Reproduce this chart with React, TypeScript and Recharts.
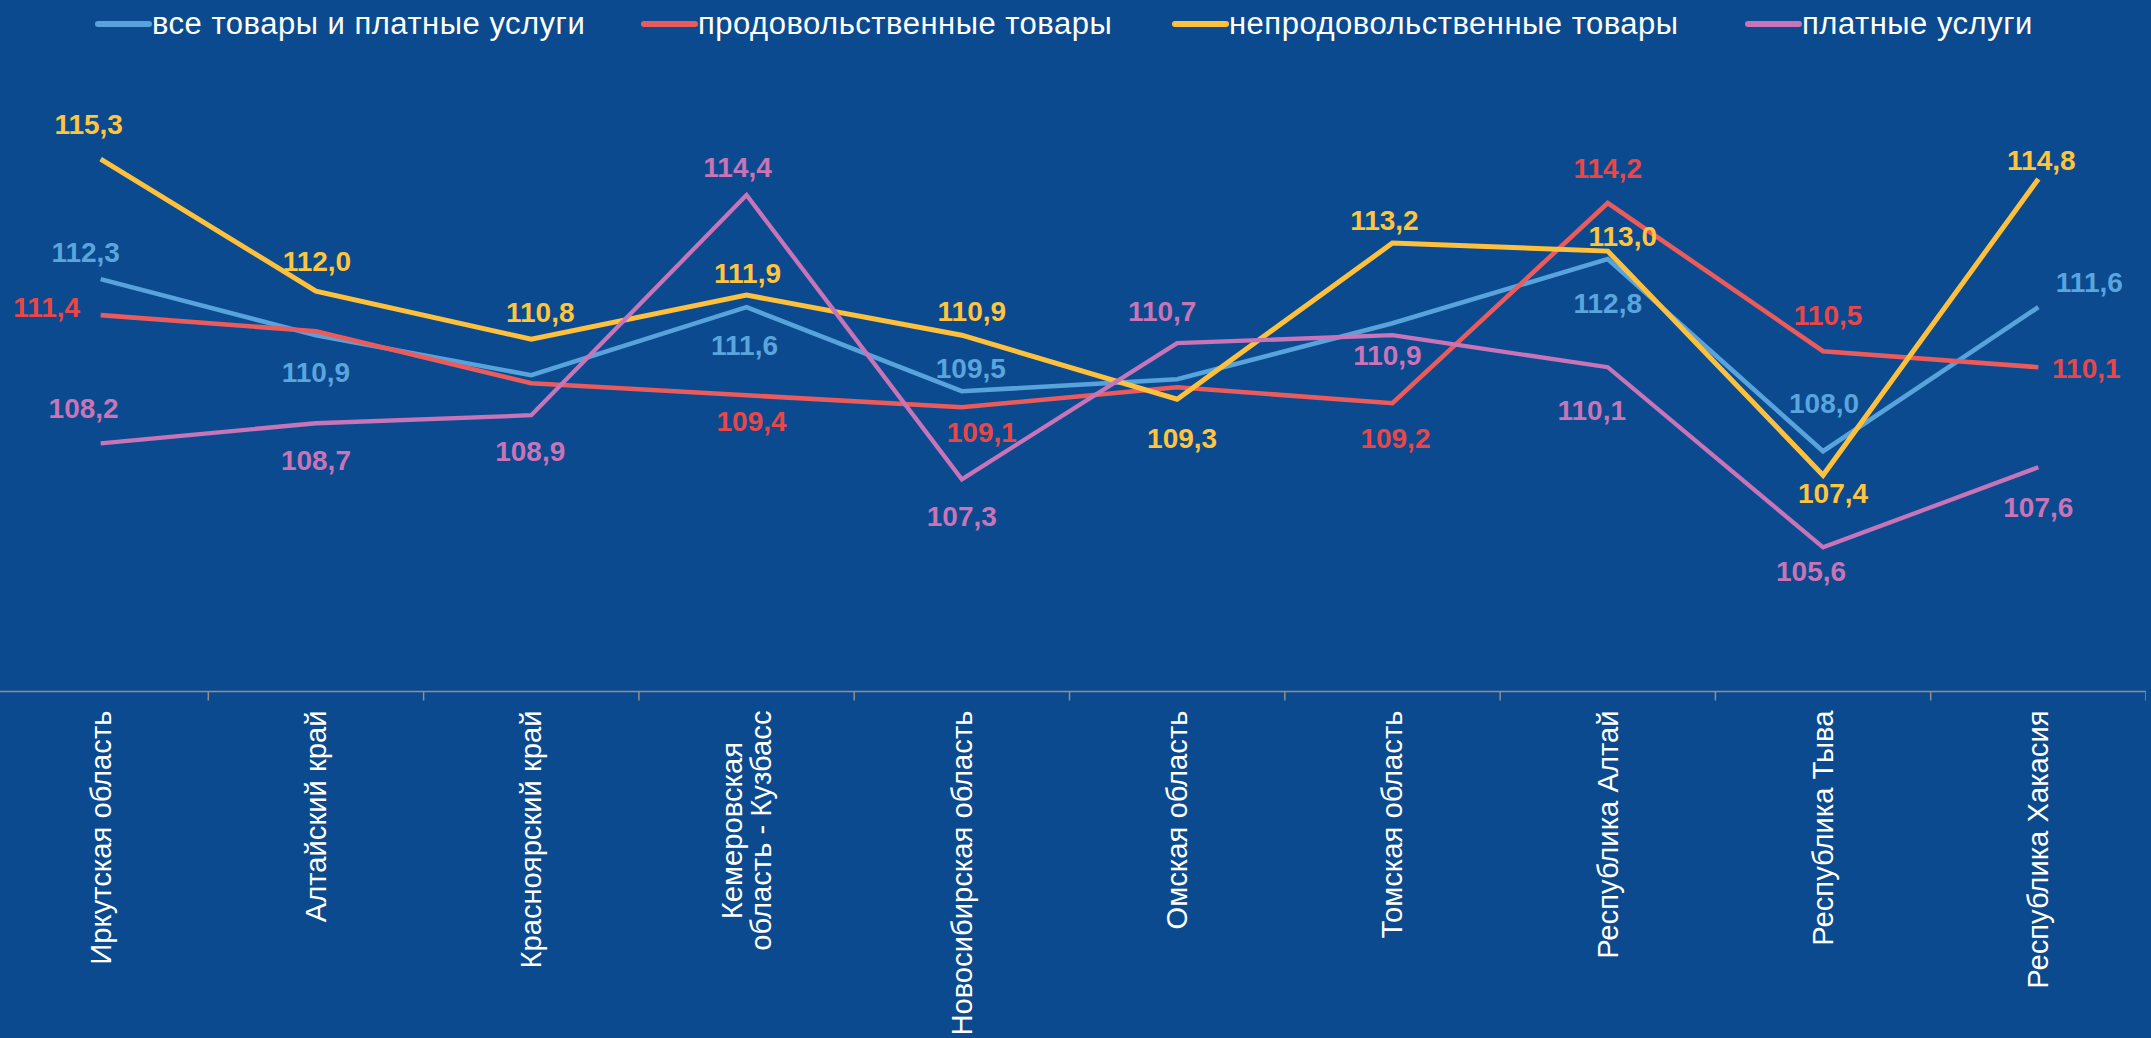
import React from "react";
import { LineChart, Line, XAxis, YAxis, LabelList } from "recharts";

const regions = [
  "Иркутская область",
  "Алтайский край",
  "Красноярский край",
  "Кемеровская\nобласть - Кузбасс",
  "Новосибирская область",
  "Омская область",
  "Томская область",
  "Республика Алтай",
  "Республика Тыва",
  "Республика Хакасия",
];

// все товары и платные услуги
const allGoods = [112.3, 110.9, 109.9, 111.6, 109.5, 109.8, 111.2, 112.8, 108.0, 111.6];
// продовольственные товары
const foodGoods = [111.4, 111.0, 109.7, 109.4, 109.1, 109.6, 109.2, 114.2, 110.5, 110.1];
// непродовольственные товары
const nonFoodGoods = [115.3, 112.0, 110.8, 111.9, 110.9, 109.3, 113.2, 113.0, 107.4, 114.8];
// платные услуги
const paidServices = [108.2, 108.7, 108.9, 114.4, 107.3, 110.7, 110.9, 110.1, 105.6, 107.6];

const seriesNames = [
  "все товары и платные услуги",
  "продовольственные товары",
  "непродовольственные товары",
  "платные услуги",
];

// label placement relative to the point, null = label not shown
type Off = [number, number] | null;
const allOffsets: Off[] = [[-15, -27], [0, 37], null, [-2, 38], [9, -23], null, null, [0, 44], [1, -48], [51, -25]];
const foodOffsets: Off[] = [[-54, -8], null, null, [5, 26], [20, 25], null, [3, 35], [0, -35], [5, -36], [48, 1]];
const nonFoodOffsets: Off[] = [[-12, -35], [1, -30], [9, -27], [1, -22], [10, -24], [5, 39], [-8, -23], [15, -15], [10, 18], [3, -19]];
const paidOffsets: Off[] = [[-17, -35], [0, 37], [-1, 36], [-9, -28], [0, 37], [-15, -32], [-5, 20], [-16, 43], [-12, 24], [0, 40]];

// legend item left edges (px)
const legendLeft = [95, 641, 1172, 1745];

const data = regions.map((region, i) => ({
  region,
  all: allGoods[i],
  food: foodGoods[i],
  nonFood: nonFoodGoods[i],
  paid: paidServices[i],
}));

const BG = "#0C4A8F";
const FONT = '"Liberation Sans", Arial, sans-serif';
const colors = {
  all: { line: "#58A3DC", text: "#5AA5DE" },
  food: { line: "#EC5B5B", text: "#E94747" },
  nonFood: { line: "#FFC13B", text: "#FFC53D" },
  paid: { line: "#C874B8", text: "#C874B7" },
};

const fmt = (v: number) => v.toFixed(1).replace(".", ",");

const makeLabel = (color: string, offsets: Off[]) => (props: any) => {
  const { x, y, value, index } = props;
  const off = offsets[index];
  if (!off || value == null) return null;
  return (
    <text
      x={x + off[0]}
      y={y + off[1]}
      fill={color}
      fontSize={28}
      fontWeight="bold"
      fontFamily={FONT}
      textAnchor="middle"
      dominantBaseline="central"
    >
      {fmt(value)}
    </text>
  );
};

const AXIS_FONT = 29.2;
const BAND = 215.3;

let measureCtx: CanvasRenderingContext2D | null = null;
const measure = (s: string) => {
  if (!measureCtx) {
    measureCtx = document.createElement("canvas").getContext("2d");
  }
  if (!measureCtx) return s.length * AXIS_FONT * 0.55;
  measureCtx.font = `${AXIS_FONT}px "Liberation Sans"`;
  return measureCtx.measureText(s).width;
};

const RegionTick = (props: any) => {
  const { x, y, payload } = props;
  const lines: string[] = String(payload.value).split("\n");
  const top = y + 19;
  const tick = (
    <line x1={x + BAND / 2} y1={y} x2={x + BAND / 2} y2={y + 9} stroke="#8E8E8E" strokeWidth={1.5} />
  );
  if (lines.length === 1) {
    return (
      <g>
        {tick}
        <text
          x={x}
          y={top}
          transform={`rotate(-90, ${x}, ${top})`}
          textAnchor="end"
          dominantBaseline="central"
          fill="#fff"
          fontSize={AXIS_FONT}
          fontFamily={FONT}
        >
          {lines[0]}
        </text>
      </g>
    );
  }
  const longest = Math.max(...lines.map(measure));
  const cy = top + longest / 2;
  const gap = 29;
  return (
    <g>
      {tick}
      {lines.map((ln, i) => {
        const lx = x + (i - (lines.length - 1) / 2) * gap;
        return (
          <text
            key={i}
            x={lx}
            y={cy}
            transform={`rotate(-90, ${lx}, ${cy})`}
            textAnchor="middle"
            dominantBaseline="central"
            fill="#fff"
            fontSize={AXIS_FONT}
            fontFamily={FONT}
          >
            {ln}
          </text>
        );
      })}
    </g>
  );
};

const legendColors = [colors.all.line, colors.food.line, colors.nonFood.line, colors.paid.line];

const ChartLegend = () => (
  <div style={{ position: "absolute", top: 0, left: 0, width: 2151, height: 50, zIndex: 2 }}>
    {seriesNames.map((name, i) => (
      <div
        key={name}
        style={{
          position: "absolute",
          left: legendLeft[i],
          top: 4,
          height: 40,
          display: "flex",
          alignItems: "center",
          whiteSpace: "nowrap",
          fontFamily: FONT,
          fontSize: 31,
          letterSpacing: 0.5,
          color: "#fff",
        }}
      >
        <span
          style={{
            display: "inline-block",
            width: 57,
            height: 6,
            borderRadius: 3,
            background: legendColors[i],
          }}
        />
        <span>{name}</span>
      </div>
    ))}
  </div>
);

export default function App() {
  return (
    <div
      style={{
        position: "fixed",
        left: 0,
        top: 0,
        width: 2151,
        height: 1038,
        background: BG,
        overflow: "hidden",
      }}
    >
      <ChartLegend />
      <div style={{ position: "absolute", left: -7, top: 0 }}>
        <LineChart
          width={2153}
          height={1038}
          data={data}
          margin={{ top: 131, right: 0, bottom: 46.5, left: 0 }}
        >
          <XAxis
            dataKey="region"
            interval={0}
            height={300}
            padding={{ left: BAND / 2, right: BAND / 2 }}
            axisLine={{ stroke: "#8E8E8E", strokeWidth: 1.5 }}
            tickLine={false}
            tickSize={0}
            tickMargin={0}
            tick={<RegionTick />}
          />
          <YAxis hide domain={[102, 116]} />
          <Line
            dataKey="all"
            stroke={colors.all.line}
            strokeWidth={4.6}
            dot={false}
            isAnimationActive={false}
          >
            <LabelList dataKey="all" content={makeLabel(colors.all.text, allOffsets)} />
          </Line>
          <Line
            dataKey="food"
            stroke={colors.food.line}
            strokeWidth={4.6}
            dot={false}
            isAnimationActive={false}
          >
            <LabelList dataKey="food" content={makeLabel(colors.food.text, foodOffsets)} />
          </Line>
          <Line
            dataKey="nonFood"
            stroke={colors.nonFood.line}
            strokeWidth={5}
            dot={false}
            isAnimationActive={false}
          >
            <LabelList dataKey="nonFood" content={makeLabel(colors.nonFood.text, nonFoodOffsets)} />
          </Line>
          <Line
            dataKey="paid"
            stroke={colors.paid.line}
            strokeWidth={4.3}
            dot={false}
            isAnimationActive={false}
          >
            <LabelList dataKey="paid" content={makeLabel(colors.paid.text, paidOffsets)} />
          </Line>
        </LineChart>
      </div>
    </div>
  );
}
